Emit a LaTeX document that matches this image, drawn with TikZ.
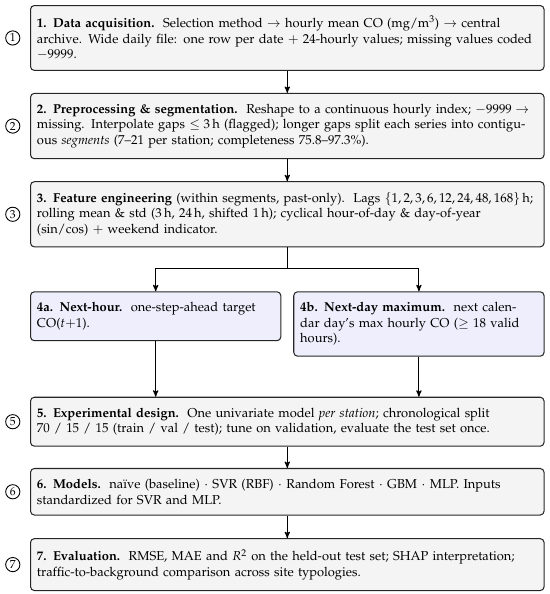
\documentclass[tikz,border=0pt]{standalone}
\usepackage[T1]{fontenc}
\usepackage{mathpazo}
\usepackage{amsmath}
\usepackage{amssymb}
\usepackage{tikz}
\usetikzlibrary{arrows, calc, positioning}
\definecolor{stagefill}{HTML}{F4F4F4}
\definecolor{taskfill}{HTML}{EEEEFC}
\tikzset {
    stage/.style = {
        draw = black!85,
        fill = stagefill,
        line width = 0.8pt,
        rounded corners = 3pt,
        shape = rectangle,
        align = left,
        text width = 388pt,
        inner xsep = 5pt,
        inner ysep = 8.3pt
    },
    task/.style = {
        stage,
        fill = taskfill,
        text width = 184pt
    },
    num/.style = {
        draw,
        shape = circle,
        line width = 0.7pt,
        inner sep = 0pt,
        minimum size = 11pt,
        font = \small
    },
    line/.style = {
        ->,
        >=stealth',
        line width = 0.8pt,
        draw
    }
}

\begin{document}
\begin{tikzpicture}[x=0.775pt, y=-0.775pt, node distance=17pt]
        \useasboundingbox (0,0) rectangle (550,594);

        % Main column : stages 1 to 3
        \node [stage, anchor=north west] at (30, 5)              (s1)  {\textbf{1. Data acquisition.}\ \ Selection method $\rightarrow$ hourly mean CO (mg/m$^3$) $\rightarrow$ central\\archive. Wide daily file: one row per date $+$ 24-hourly values; missing values coded\\$-9999$.};
        \node [stage, below=of s1]                                (s2)  {\textbf{2. Preprocessing \& segmentation.}\ \ Reshape to a continuous hourly index; $-9999\rightarrow$\\missing. Interpolate gaps $\leq 3\,$h (flagged); longer gaps split each series into contigu-\\ous \emph{segments} (7--21 per station; completeness 75.8--97.3\%).};
        \node [stage, below=of s2]                                (s3)  {\textbf{3. Feature engineering} (within segments, past-only).\ \ Lags $\{1,2,3,6,12,24,48,168\}\,$h;\\rolling mean \& std (3\,h, 24\,h, shifted 1\,h); cyclical hour-of-day \& day-of-year\\(sin/cos) $+$ weekend indicator.};

        % Split : two targets side by side
        \coordinate [below=16pt of s3]                            (split);
        \node [task, below=34pt of s3.south west, anchor=north west] (s4a) {\textbf{4a. Next-hour.}\ \ one-step-ahead target\\CO($t{+}1$).};
        \node [task, below=34pt of s3.south east, anchor=north east] (s4b) {\textbf{4b. Next-day maximum.}\ \ next calen-\\dar day's max hourly CO ($\geq$ 18 valid\\hours).};

        % Main column again : stages 5 to 7
        \node [stage, anchor=north] at ([yshift=-31pt]s4b.south -| s3.south) (s5) {\textbf{5. Experimental design.}\ \ One univariate model \emph{per station}; chronological split\\70 / 15 / 15 (train / val / test); tune on validation, evaluate the test set once.};
        \node [stage, below=16.5pt of s5]                         (s6)  {\textbf{6. Models.}\ \ na\"{\i}ve (baseline) $\cdot$ SVR (RBF) $\cdot$ Random Forest $\cdot$ GBM $\cdot$ MLP. Inputs\\standardized for SVR and MLP.};
        \node [stage, below=17.5pt of s6]                         (s7)  {\textbf{7. Evaluation.}\ \ RMSE, MAE and $R^2$ on the held-out test set; SHAP interpretation;\\traffic-to-background comparison across site typologies.};

        % Step numbers
        \foreach \s/\n in {s1/1, s2/2, s3/3, s5/5, s6/6, s7/7}
            \node [num, left=7.5pt of \s] (n\n) {\n};

        \draw [line]    (s1)        --  (s2);
        \draw [line]    (s2)        --  (s3);
        \draw [line, -] (s3)        --  (split);
        \draw [line]    (split)     -|  (s4a);
        \draw [line]    (split)     -|  (s4b);
        \draw [line]    (s4a.south) --  (s4a.south |- s5.north);
        \draw [line]    (s4b.south) --  (s4b.south |- s5.north);
        \draw [line]    (s5)        --  (s6);
        \draw [line]    (s6)        --  (s7);
    \end{tikzpicture}
\end{document}
